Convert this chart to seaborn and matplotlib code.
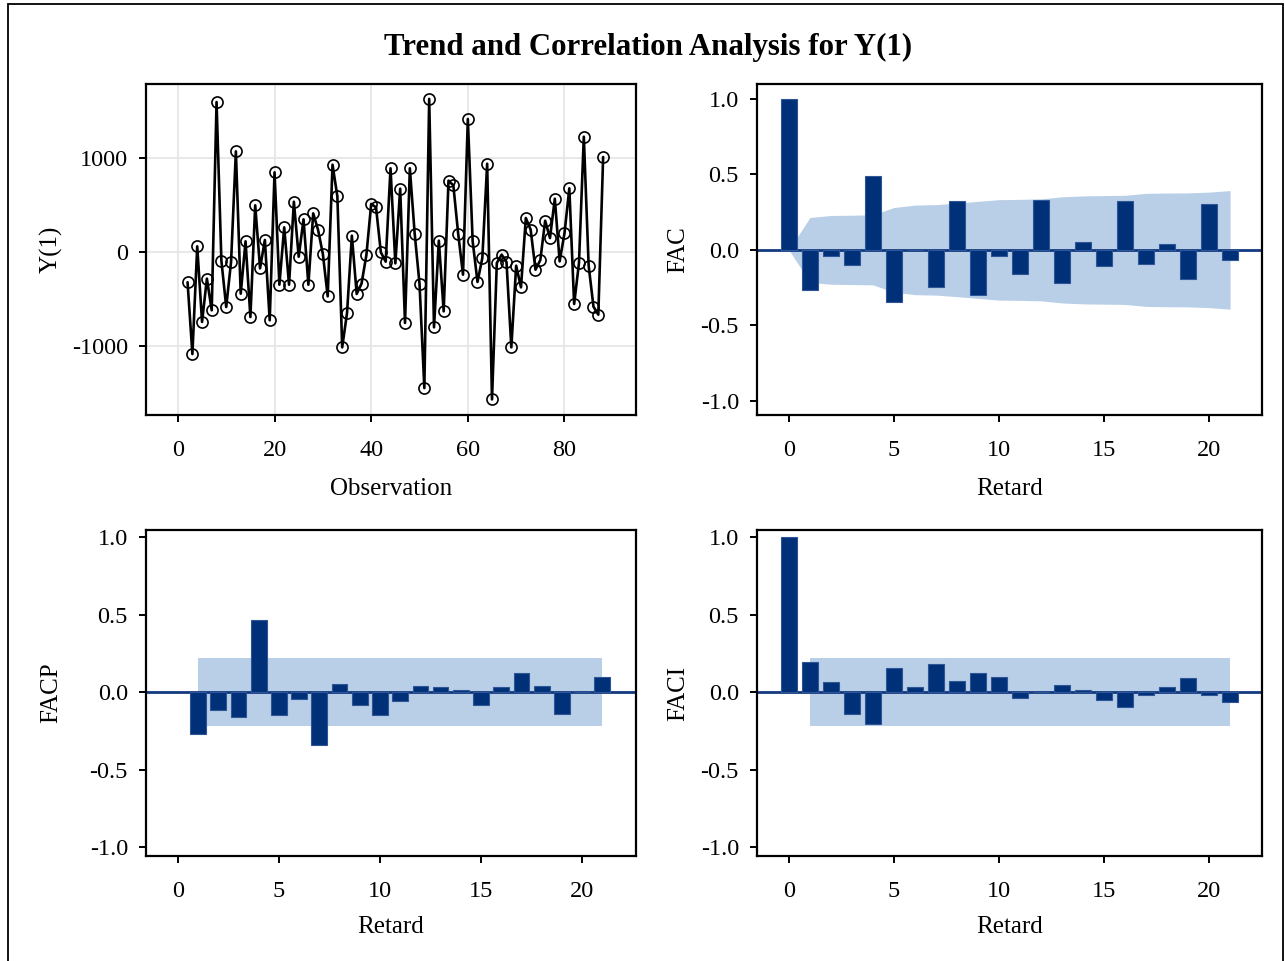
import numpy as np
import pandas as pd
import matplotlib
matplotlib.use("Agg")
import matplotlib.pyplot as plt
from matplotlib.patches import Rectangle
import seaborn as sns

# ---- series Y(1), observations 2..88 ----
obs = list(range(2, 89))
y_values = [
    -320, -1080, 60, -740, -282, -617, 1587, -92, -582, -106,
    1065, -441, 113, -688, 494, -173, 127, -723, 843, -346,
    261, -346, 532, -50, 346, -346, 409, 236, -21, -469,
    924, 589, -1009, -646, 173, -444, -335, -35, 508, 473,
    -3, -102, 886, -120, 670, -751, 886, 194, -335, -1440,
    1620, -797, 120, -628, 755, 706, 194, -240, 1407, 113,
    -317, -63, 934, -1560, -116, -28, -106, -1009, -145, -374,
    360, 236, -187, -85, 331, 148, 564, -99, 198, 674,
    -550, -116, 1220, -145, -578, -663, 1005,
]

# ---- autocorrelation (FAC), lags 0..21 ----
acf_lags = list(range(0, 22))
acf_values = [
    1.0, -0.269, -0.042, -0.099, 0.492, -0.347, -0.004, -0.247, 0.322, -0.296,
    -0.042, -0.159, 0.331, -0.219, 0.051, -0.110, 0.322, -0.093, 0.042, -0.194,
    0.305, -0.066,
]
acf_band = [
    0.0, 0.215, 0.228, 0.230, 0.232, 0.281, 0.297, 0.300, 0.310, 0.322,
    0.333, 0.335, 0.338, 0.352, 0.358, 0.360, 0.362, 0.375, 0.377, 0.378,
    0.383, 0.393,
]

# ---- partial autocorrelation (FACP), lags 1..21 ----
pacf_lags = list(range(1, 22))
pacf_values = [
    -0.272, -0.116, -0.159, 0.467, -0.148, -0.041, -0.337, 0.051, -0.081, -0.148,
    -0.058, 0.041, 0.032, 0.015, -0.081, 0.032, 0.122, 0.041, -0.139, 0.004,
    0.099,
]
pacf_band = 0.219

# ---- inverse autocorrelation (FACI), lags 0..21 ----
iacf_lags = list(range(0, 22))
iacf_values = [
    1.0, 0.194, 0.064, -0.139, -0.205, 0.154, 0.032, 0.179, 0.073, 0.122,
    0.098, -0.034, 0.003, 0.049, 0.015, -0.049, -0.092, -0.017, 0.032, 0.090,
    -0.017, -0.066,
]
iacf_band = 0.218

corr_ticks = [-1.0, -0.5, 0.0, 0.5, 1.0]
corr_ticklabels = ["-1.0", "-0.5", "0.0", "0.5", "1.0"]
lag_ticks = [0, 5, 10, 15, 20]
obs_ticks = [0, 20, 40, 60, 80]
y_ticks = [-1000, 0, 1000]

BAR = "#003178"
BAR_EDGE = "#2f5597"
BAND = "#b9cfe7"
ZERO = "#123a80"

sns.set_theme(style="ticks")
plt.rcParams["font.family"] = ["Liberation Serif", "DejaVu Serif"]
plt.rcParams["axes.linewidth"] = 1.6
plt.rcParams["xtick.major.width"] = 1.4
plt.rcParams["ytick.major.width"] = 1.4
plt.rcParams["xtick.major.size"] = 5
plt.rcParams["ytick.major.size"] = 5
plt.rcParams["xtick.labelsize"] = 17.5
plt.rcParams["ytick.labelsize"] = 17.5
plt.rcParams["axes.labelsize"] = 18
plt.rcParams["axes.edgecolor"] = "black"
plt.rcParams["xtick.color"] = "black"
plt.rcParams["ytick.color"] = "black"
plt.rcParams["text.color"] = "black"
plt.rcParams["axes.labelcolor"] = "black"

W, H = 1285, 961
fig = plt.figure(figsize=(W / 100, H / 100), dpi=100)
fig.patch.set_facecolor("white")


def px_axes(left, top, right, bottom):
    return fig.add_axes([left / W, 1 - bottom / H, (right - left) / W, (bottom - top) / H])


ax_ts = px_axes(146, 84, 636, 415)
ax_acf = px_axes(757, 84, 1262, 415)
ax_pacf = px_axes(146, 530, 636, 856)
ax_iacf = px_axes(757, 530, 1262, 856)

# ---- time series panel ----
ts = pd.DataFrame({"Observation": obs, "Y(1)": y_values})
ax_ts.grid(True, color="#e6e6e6", linewidth=1.3)
ax_ts.set_axisbelow(True)
sns.lineplot(data=ts, x="Observation", y="Y(1)", ax=ax_ts, color="black",
             linewidth=1.9, marker="o", markersize=8, markerfacecolor="none",
             markeredgecolor="black", markeredgewidth=1.2)
ax_ts.set_xlim(-6.6, 94.8)
ax_ts.set_ylim(-1725, 1778)
ax_ts.set_xticks(obs_ticks)
ax_ts.set_yticks(y_ticks)
ax_ts.set_yticklabels([str(v) for v in y_ticks])
ax_ts.set_xlabel("Observation")
ax_ts.set_ylabel("Y(1)")


def corr_panel(ax, lags, values, band_x, band_lo, band_hi, xlim, ylim, ylabel):
    ax.fill_between(band_x, band_lo, band_hi, color=BAND, linewidth=0, zorder=1)
    df = pd.DataFrame({"lag": lags, "value": values})
    sns.barplot(data=df, x="lag", y="value", ax=ax, native_scale=True,
                color=BAR, width=0.78, errorbar=None, saturation=1,
                edgecolor=BAR_EDGE, linewidth=0.8, zorder=3)
    ax.axhline(0, color=ZERO, linewidth=2.0, zorder=2)
    ax.set_xlim(*xlim)
    ax.set_ylim(*ylim)
    ax.set_xticks(lag_ticks)
    ax.set_xticklabels([str(t) for t in lag_ticks])
    ax.set_yticks(corr_ticks)
    ax.set_yticklabels(corr_ticklabels)
    ax.set_xlabel("Retard")
    ax.set_ylabel(ylabel)


corr_panel(ax_acf, acf_lags, acf_values, acf_lags,
           [-b for b in acf_band], acf_band,
           (-1.52, 22.52), (-1.095, 1.10), "FAC")
corr_panel(ax_pacf, pacf_lags, pacf_values, [pacf_lags[0], pacf_lags[-1]],
           [-pacf_band, -pacf_band], [pacf_band, pacf_band],
           (-1.58, 22.67), (-1.055, 1.045), "FACP")
corr_panel(ax_iacf, iacf_lags, iacf_values, [1, iacf_lags[-1]],
           [-iacf_band, -iacf_band], [iacf_band, iacf_band],
           (-1.52, 22.52), (-1.055, 1.045), "FACI")

for ax in (ax_ts, ax_acf, ax_pacf, ax_iacf):
    for s in ax.spines.values():
        s.set_visible(True)
        s.set_color("black")
        s.set_linewidth(1.6)
    ax.tick_params(axis="x", which="major", direction="out", pad=13)
    ax.tick_params(axis="y", which="major", direction="out", pad=8)
    ax.tick_params(top=False, right=False)

# label placement
ax_ts.yaxis.set_label_coords(-0.17, 0.5)
ax_pacf.yaxis.set_label_coords(-0.17, 0.5)
ax_acf.yaxis.set_label_coords(-0.135, 0.5)
ax_iacf.yaxis.set_label_coords(-0.135, 0.5)
for ax in (ax_ts, ax_acf):
    ax.xaxis.set_label_coords(0.5, -0.19)
for ax in (ax_pacf, ax_iacf):
    ax.xaxis.set_label_coords(0.5, -0.185)

fig.text(648 / W, 1 - 47 / H, "Trend and Correlation Analysis for Y(1)",
         ha="center", va="center", fontsize=22.2, fontweight="bold")

# outer frame of the figure
fig.patches.append(Rectangle((8 / W, -0.01), (1283 - 8) / W, 1.01 - 4 / H,
                             transform=fig.transFigure, fill=False,
                             edgecolor="black", linewidth=1.3))

fig.savefig("out.png", dpi=100, facecolor="white")
